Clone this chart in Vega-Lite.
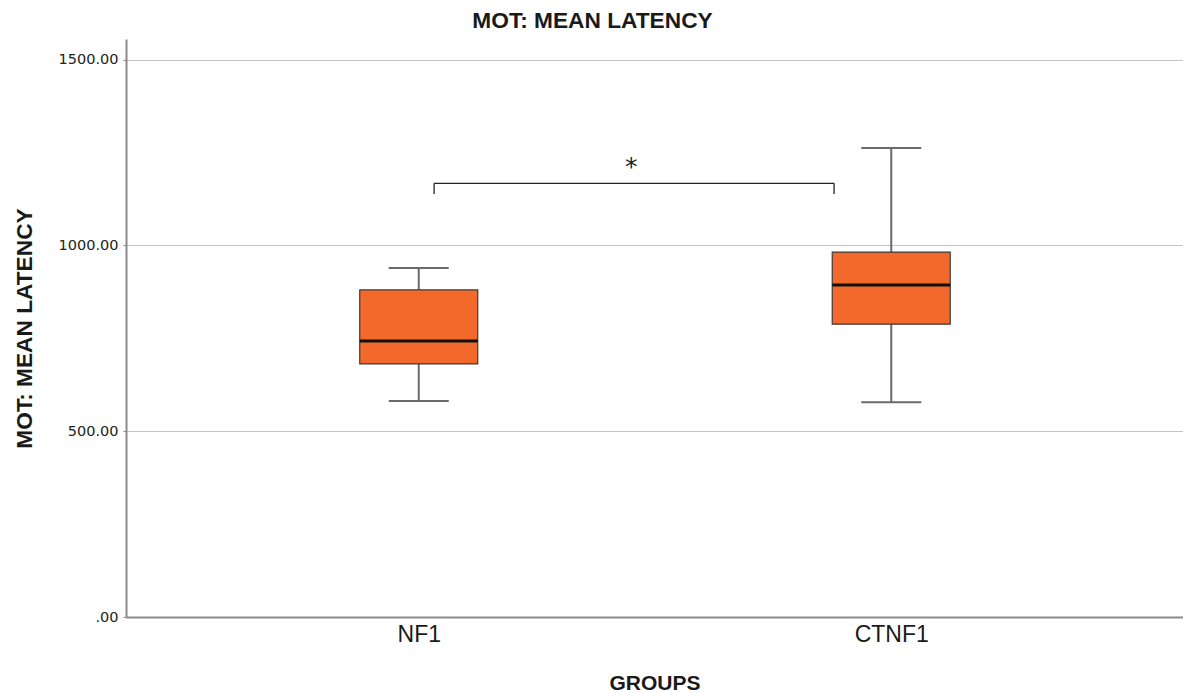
{
  "$schema": "https://vega.github.io/schema/vega-lite/v6.json",
  "width": 1057,
  "height": 578,
  "autosize": {"type": "none"},
  "padding": {"left": 126, "top": 39, "right": 0, "bottom": 76},
  "background": "white",
  "config": {"view": {"stroke": null}},
  "title": {"text": "MOT: MEAN LATENCY", "font": "Liberation Sans", "fontSize": 22.7, "fontWeight": "bold", "color": "#1a1a1a", "dx": -62, "offset": 6, "anchor": "middle"},
  "datasets": {
    "groups": [
      {"group": "NF1", "pos": 1, "low": 581, "q1": 681, "median": 742.5, "q3": 880, "high": 939},
      {"group": "CTNF1", "pos": 2, "low": 578, "q1": 788, "median": 893, "q3": 982, "high": 1262}
    ],
    "bracket": [
      {"x1": 1.0325, "x2": 1.879, "y1": 1167, "y2": 1167},
      {"x1": 1.0325, "x2": 1.0325, "y1": 1138, "y2": 1167},
      {"x1": 1.879, "x2": 1.879, "y1": 1138, "y2": 1167}
    ],
    "sig": [{"x": 1.45, "y": 1212, "label": "*"}]
  },
  "encoding": {
    "x": {
      "type": "quantitative",
      "scale": {"domain": [0.3910, 2.6069], "nice": false, "zero": false},
      "axis": {
        "title": "GROUPS", "values": [1, 2],
        "labelExpr": "datum.value == 1 ? 'NF1' : 'CTNF1'",
        "grid": false, "ticks": false,
        "domainColor": "#8a8a8a", "domainWidth": 2,
        "labelFont": "Liberation Sans", "labelFontSize": 23, "labelColor": "#1a1a1a", "labelPadding": 6,
        "titleFont": "Liberation Sans", "titleFontSize": 21, "titleFontWeight": "bold", "titleColor": "#1a1a1a",
        "titleY": 72, "titleBaseline": "alphabetic"
      }
    },
    "y": {
      "type": "quantitative",
      "scale": {"domain": [0, 1555.2], "nice": false},
      "axis": {
        "title": "MOT: MEAN LATENCY", "values": [0, 500, 1000, 1500],
        "labelExpr": "datum.value == 0 ? '.00' : format(datum.value, '.2f')",
        "grid": true, "gridColor": "#c4c4c4", "gridWidth": 1.2,
        "tickSize": 3, "tickColor": "#8a8a8a",
        "domainColor": "#8a8a8a", "domainWidth": 2,
        "labelFont": "DejaVu Sans", "labelFontSize": 14.5, "labelColor": "#222", "labelPadding": 5,
        "titleFont": "Liberation Sans", "titleFontSize": 22.7, "titleFontWeight": "bold", "titleColor": "#1a1a1a",
        "titleX": -102, "titleY": 289, "titleBaseline": "middle", "titleAlign": "center", "titleAngle": -90
      }
    }
  },
  "layer": [
    {
      "data": {"name": "groups"},
      "mark": {"type": "rule", "color": "#6a6a6a", "strokeWidth": 2},
      "encoding": {"x": {"field": "pos"}, "y": {"field": "low"}, "y2": {"field": "high"}}
    },
    {
      "data": {"name": "groups"},
      "mark": {"type": "bar", "size": 118, "color": "#F2692B", "stroke": "#3a3a3a", "strokeWidth": 1.2},
      "encoding": {"x": {"field": "pos"}, "y": {"field": "q1"}, "y2": {"field": "q3"}}
    },
    {
      "data": {"name": "groups"},
      "mark": {"type": "tick", "orient": "horizontal", "size": 118, "thickness": 3, "color": "#111111", "opacity": 1},
      "encoding": {"x": {"field": "pos"}, "y": {"field": "median"}}
    },
    {
      "data": {"name": "groups"},
      "mark": {"type": "tick", "orient": "horizontal", "size": 60, "thickness": 2, "color": "#6a6a6a", "opacity": 1},
      "encoding": {"x": {"field": "pos"}, "y": {"field": "low"}}
    },
    {
      "data": {"name": "groups"},
      "mark": {"type": "tick", "orient": "horizontal", "size": 60, "thickness": 2, "color": "#6a6a6a", "opacity": 1},
      "encoding": {"x": {"field": "pos"}, "y": {"field": "high"}}
    },
    {
      "data": {"name": "bracket"},
      "mark": {"type": "rule", "color": "#222222", "strokeWidth": 1.3},
      "encoding": {"x": {"field": "x1"}, "x2": {"field": "x2"}, "y": {"field": "y1"}, "y2": {"field": "y2"}}
    },
    {
      "data": {"name": "sig"},
      "mark": {"type": "text", "font": "DejaVu Sans", "fontSize": 25, "color": "#222222", "baseline": "middle", "align": "center"},
      "encoding": {"x": {"field": "x"}, "y": {"field": "y"}, "text": {"field": "label"}}
    }
  ]
}
